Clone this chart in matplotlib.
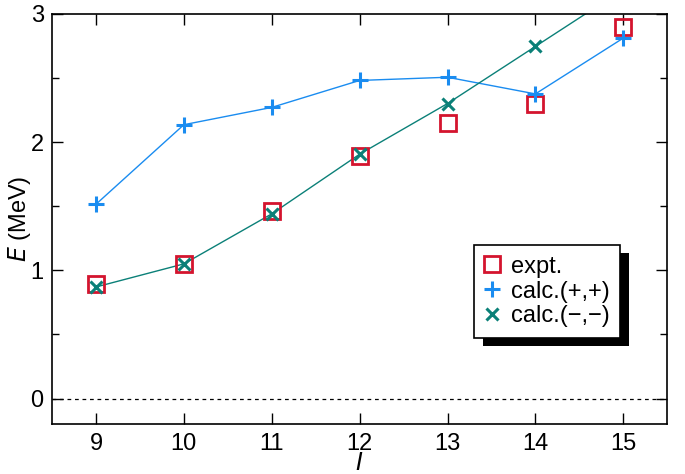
import matplotlib
matplotlib.use("Agg")
import matplotlib.pyplot as plt
from matplotlib.ticker import MultipleLocator
import matplotlib.patheffects as pe

# spin values and energies (MeV)
spins = [9, 10, 11, 12, 13, 14, 15]
expt = [0.895, 1.05, 1.46, 1.89, 2.145, 2.30, 2.895]
calc_pp = [1.515, 2.135, 2.27, 2.48, 2.505, 2.375, 2.81]
calc_mm = [0.87, 1.05, 1.44, 1.905, 2.30, 2.745, 3.19]

plt.rcParams['font.family'] = ['Liberation Sans', 'DejaVu Sans']
blue = '#1a8cf0'
teal = '#0b8078'
red = '#d4142e'

fig, ax = plt.subplots(figsize=(6.85, 4.74), dpi=100)
fig.subplots_adjust(left=0.076, right=0.974, top=0.971, bottom=0.105)

ax.axhline(0, color='black', lw=0.9, ls=(0, (3, 3)), zorder=1)

ax.plot(spins, calc_pp, color=blue, lw=1.0, zorder=2)
ax.plot(spins, calc_mm, color=teal, lw=1.0, zorder=2)
ax.plot(spins, expt, ls='none', marker='s', ms=11, mfc='none', mec=red, mew=2,
        label='expt.', zorder=3)
ax.plot(spins, calc_pp, ls='none', marker='+', ms=11, mec=blue, mew=2.2,
        label='calc.(+,+)', zorder=4)
ax.plot(spins, calc_mm, ls='none', marker='x', ms=8, mec=teal, mew=2.2,
        label='calc.(\u2212,\u2212)', zorder=4)

ax.set_xlim(8.5, 15.5)
ax.set_ylim(-0.2, 3)
ax.set_xticks(spins)
ax.set_yticks([0, 1, 2, 3])
ax.yaxis.set_minor_locator(MultipleLocator(0.5))
ax.tick_params(which='both', direction='in', top=True, right=True, labelsize=17, width=1)
ax.tick_params(which='major', length=8, pad=6)
ax.tick_params(which='minor', length=5)
for s in ax.spines.values():
    s.set_linewidth(1.2)

ax.set_xlabel('$\\mathit{I}$', fontsize=17, labelpad=-1)
ax.set_ylabel('$\\mathit{E}$ (MeV)', fontsize=17, labelpad=-2)

leg = ax.legend(loc='lower right', bbox_to_anchor=(0.924, 0.21), fontsize=17,
                handlelength=0.6, handletextpad=0.5, borderpad=0.45,
                labelspacing=0.12, borderaxespad=0, fancybox=False, shadow=False,
                edgecolor='black', framealpha=1)
leg.get_frame().set_linewidth(1.2)
leg.get_frame().set_path_effects([pe.SimplePatchShadow(offset=(6, -6), shadow_rgbFace='black', alpha=1), pe.Normal()])

fig.savefig('out.png', dpi=100)
